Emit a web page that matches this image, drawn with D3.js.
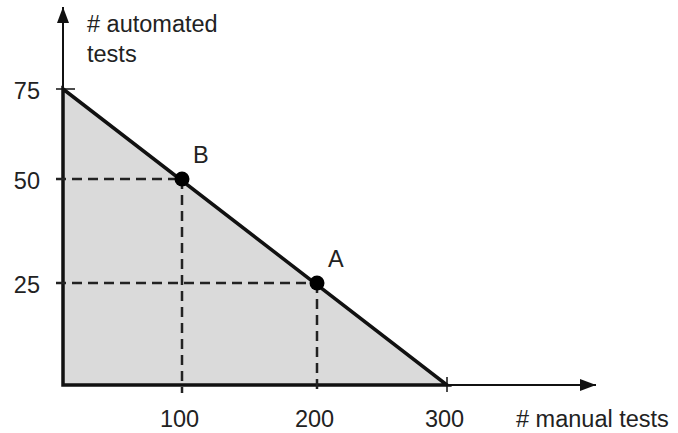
<!DOCTYPE html>
<html>
<head>
<meta charset="utf-8">
<script src="https://cdn.jsdelivr.net/npm/d3@7"></script>
<style>
    body { margin: 0; background: #fff; }
    svg { display: block; font-family: "Liberation Sans", Arial, sans-serif; }
</style>
</head>
<body>
<div id="display"></div>
<script>
// Chart values
const xTicks = [100, 200, 300];
const yTicks = [25, 50, 75];
const frontierManual = [0, 300];
const frontierAutomated = [75, 0];
const pointLabels = ["B", "A"];
const pointManual = [100, 200];
const pointAutomated = [50, 25];
const xTitle = "# manual tests";
const yTitle = ["# automated", "tests"];

const width = 678, height = 433;
const ink = "#111";
const fontSize = 23.5;

// hand drawn original, so the scales are piecewise
const x = d3.scaleLinear().domain([0, 100, 200, 300]).range([63, 182, 317, 447]);
const y = d3.scaleLinear().domain([0, 25, 50, 75]).range([385, 283, 179, 89]);

const svg = d3.select("div#display").append("svg").attr("width", width).attr("height", height);

// Shaded feasible region
const region = frontierManual.map((m, i) => [m, frontierAutomated[i]]);
region.push([0, 0]);
svg.append("path")
    .attr("d", d3.line().x(d => x(d[0])).y(d => y(d[1]))(region) + "Z")
    .attr("fill", "#dadada")
    .attr("stroke", ink)
    .attr("stroke-width", 3.5)
    .attr("stroke-linejoin", "miter");

// Arrow heads
const defs = svg.append("defs");
defs.append("marker")
    .attr("id", "arrow")
    .attr("viewBox", "0 0 16 12")
    .attr("refX", 16).attr("refY", 6)
    .attr("markerWidth", 16).attr("markerHeight", 12)
    .attr("markerUnits", "userSpaceOnUse")
    .attr("orient", "auto")
    .append("path").attr("d", "M0,0L16,6L0,12Z").attr("fill", ink);

// Axis lines
svg.append("line")
    .attr("x1", x(0)).attr("y1", y(0)).attr("x2", 596).attr("y2", y(0))
    .attr("stroke", ink).attr("stroke-width", 2).attr("marker-end", "url(#arrow)");
svg.append("line")
    .attr("x1", x(0)).attr("y1", y(0)).attr("x2", x(0)).attr("y2", 7)
    .attr("stroke", ink).attr("stroke-width", 2).attr("marker-end", "url(#arrow)");

// Small solid ticks at the intercepts
svg.append("line")
    .attr("x1", x(0) - 7).attr("x2", x(0) + 12)
    .attr("y1", y(frontierAutomated[0])).attr("y2", y(frontierAutomated[0]))
    .attr("stroke", ink).attr("stroke-width", 1.5);
svg.append("line")
    .attr("x1", x(frontierManual[1])).attr("x2", x(frontierManual[1]))
    .attr("y1", y(0) - 8).attr("y2", y(0) + 7)
    .attr("stroke", ink).attr("stroke-width", 1.5);

// Dashed guides to the points
const guides = svg.append("g")
    .attr("stroke", "#222").attr("stroke-width", 2.5).attr("stroke-dasharray", "10,6");
pointManual.forEach((m, i) => {
    guides.append("line")
        .attr("x1", x(0) - 7).attr("x2", x(m))
        .attr("y1", y(pointAutomated[i])).attr("y2", y(pointAutomated[i]));
    guides.append("line")
        .attr("x1", x(m)).attr("x2", x(m))
        .attr("y1", y(pointAutomated[i])).attr("y2", y(0) + 8);
});

// Points
svg.append("g").selectAll("circle")
    .data(pointManual)
    .join("circle")
    .attr("cx", d => x(d))
    .attr("cy", (d, i) => y(pointAutomated[i]))
    .attr("r", 7.5)
    .attr("fill", "#000");

svg.append("g").selectAll("text")
    .data(pointLabels)
    .join("text")
    .attr("x", (d, i) => x(pointManual[i]) + 11)
    .attr("y", (d, i) => y(pointAutomated[i]) - 16)
    .attr("font-size", fontSize)
    .attr("fill", "#222")
    .text(d => d);

// Tick labels
const xAxis = svg.append("g")
    .attr("transform", `translate(-3,${y(0)})`)
    .call(d3.axisBottom(x).tickValues(xTicks).tickSize(0).tickPadding(25));
const yAxis = svg.append("g")
    .attr("transform", `translate(${x(0)},2)`)
    .call(d3.axisLeft(y).tickValues(yTicks).tickSize(0).tickPadding(23));
[xAxis, yAxis].forEach(a => {
    a.select(".domain").remove();
    a.selectAll("text")
        .attr("font-family", "Liberation Sans, Arial, sans-serif")
        .attr("font-size", fontSize)
        .attr("fill", "#222");
});

// Axis titles
svg.append("text")
    .attr("x", 516).attr("y", 427)
    .attr("font-size", fontSize).attr("fill", "#222")
    .text(xTitle);
svg.append("text")
    .attr("x", 87).attr("y", 32)
    .attr("font-size", fontSize).attr("fill", "#222")
    .selectAll("tspan")
    .data(yTitle)
    .join("tspan")
    .attr("x", 87)
    .attr("dy", (d, i) => i ? 30 : 0)
    .text(d => d);
</script>
</body>
</html>
